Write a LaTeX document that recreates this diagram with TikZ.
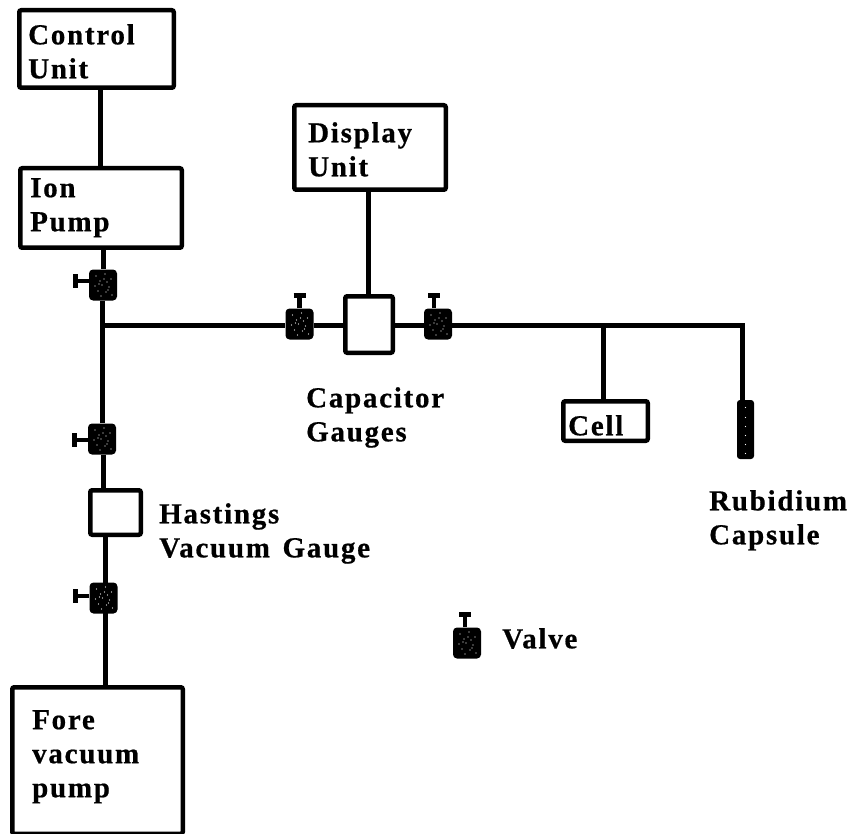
\documentclass[tikz,border=0pt]{standalone}
\usepackage{fontspec}
\usetikzlibrary{calc,backgrounds}
\setmainfont[LetterSpace=6,WordSpace=1.4,BoldFeatures={FakeBold=0.6}]{Liberation Serif}
\newcommand{\valvedots}[1]{\foreach \dx/\dy in {-7/-9,2/-11,8/-6,-3/-4,4/-3,-8/1,-1/0,6/2,-5/6,3/7,9/10,-2/11,1/-6,-4/-1,5/5}
  {\fill[white] ([shift={(\dx,\dy)}]#1) circle (0.7);}}
\begin{document}
\begin{tikzpicture}[x=1pt,y=-1pt,
  box/.style={draw=black,line width=4.5pt,rounded corners=2pt,fill=white,inner sep=0pt,anchor=north west},
  pipe/.style={draw=black,line width=5pt},
  handle/.style={draw=black,line width=4.5pt},
  handlebar/.style={draw=black,line width=5pt},
  valvebody/.style={fill=black,draw=none,rounded corners=4pt,minimum width=28pt,minimum height=31pt,inner sep=0pt},
  capsulebody/.style={fill=black,draw=none,rounded corners=3pt,minimum width=17pt,minimum height=59pt,inner sep=0pt},
  lab/.style={font=\fontsize{29}{34}\selectfont\bfseries,align=left,anchor=north west,inner sep=0pt}]
\useasboundingbox (0,0) rectangle (856,834);
% boxes
\node[box,minimum width=154.5pt,minimum height=77.5pt] (ctrl) at (17,8) {};
\node[box,minimum width=161.5pt,minimum height=79.5pt] (ion) at (18,166) {};
\node[box,minimum width=151.5pt,minimum height=84.5pt] (disp) at (292,103) {};
\node[box,minimum width=47.5pt,minimum height=56.5pt] (cap) at (343,294) {};
\node[box,minimum width=84.5pt,minimum height=39.5pt] (cell) at (561,399) {};
\node[box,minimum width=50.5pt,minimum height=44.5pt] (hast) at (88,488) {};
\node[box,minimum width=170.5pt,minimum height=146.5pt] (fore) at (10,685) {};
% free points
\coordinate (xa) at (100,0);
\coordinate (xb) at (103,0);
\coordinate (xc) at (105,0);
\coordinate (xd) at (368,0);
\coordinate (jl) at (102,325);
\coordinate (jc) at (603,325);
\coordinate (jr) at (742,325);
% valves
\node[valvebody] (v1) at (103,285) {};
\node[valvebody] (v2) at (102,439) {};
\node[valvebody] (v3) at (103.5,598) {};
\node[valvebody] (v4) at (299.5,324) {};
\node[valvebody] (v5) at (438,324) {};
\node[valvebody] (v6) at (467,643) {};
\node[capsulebody] (caps) at (745.5,429.5) {};
% pipes
\begin{scope}[on background layer]
\draw[pipe] (ctrl.south -| xa) -- (ion.north -| xa);
\draw[pipe] (ion.south -| xb) -- (v1.north -| xb);
\draw[pipe] (v1.south -| jl) -- (v2.north -| jl);
\draw[pipe] (v2.south -| xb) -- (hast.north -| xb);
\draw[pipe] (hast.south -| xc) -- (v3.south -| xc);
\draw[pipe] (v3.south -| xc) -- (fore.north -| xc);
\draw[pipe] (jl) -- (v4.west |- jl);
\draw[pipe] (v4.east |- jl) -- (cap.west |- jl);
\draw[pipe] (cap.east |- jl) -- (v5.west |- jl);
\draw[pipe] (v5.east |- jl) -- (jr) -- (jr |- caps.north);
\draw[pipe] (jc) -- (jc |- cell.north);
\draw[pipe] (disp.south -| xd) -- (cap.north -| xd);
\end{scope}
% handles
\foreach \v/\o in {v1/-4,v2/1,v3/-2}{
  \draw[handle] ($(\v.west)+(0,\o)$) -- ++(-13,0);
  \draw[handlebar] ($(\v.west)+(-13.5,\o-7)$) -- ($(\v.west)+(-13.5,\o+7)$);}
\foreach \v/\o in {v4/0,v5/-4,v6/-2}{
  \draw[handle] ($(\v.north)+(\o,0)$) -- ++(0,-12);
  \draw[handlebar] ($(\v.north)+(\o-6,-13)$) -- ($(\v.north)+(\o+6,-13)$);}
\foreach \v in {v1,v2,v3,v4,v5,v6}{\valvedots{\v}}
\foreach \dy in {-22,-12,-3,6,15,24}{\fill[white] ([shift={(0,\dy)}]caps) circle (0.7);}
% labels
\node[lab] (t1) at (28,24) {Control\\Unit};
\node[lab] (t2) at (30,178) {Ion\\Pump};
\node[lab] (t3) at (308,122) {Display\\Unit};
\node[lab] (t4) at (306,387) {Capacitor\\Gauges};
\node[lab] (t5) at (159,503) {Hastings\\Vacuum Gauge};
\node[lab] (t6) at (709,490) {Rubidium\\Capsule};
\node[lab] (t7) at (32,710) {Fore\\vacuum\\pump};
\node[lab] (t8) at (568,415) {Cell};
\node[lab] (t9) at (502,628) {Valve};
\end{tikzpicture}
\end{document}
